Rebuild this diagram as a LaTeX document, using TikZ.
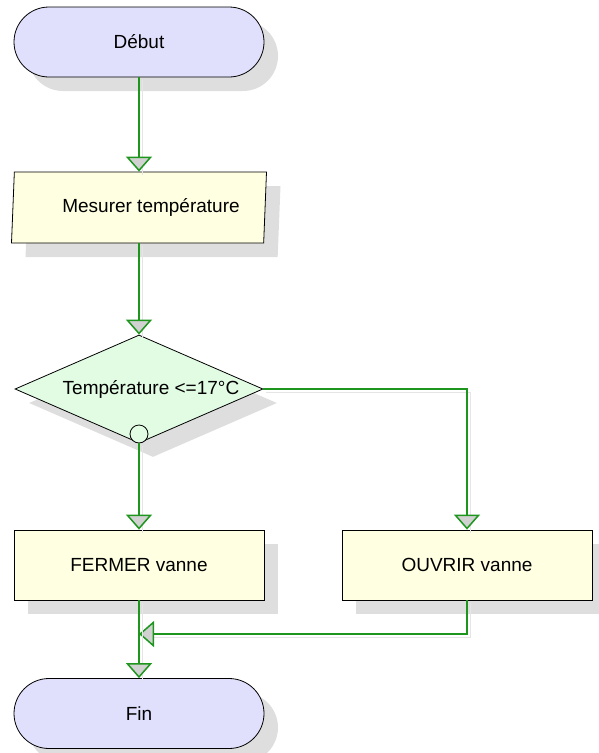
\documentclass[tikz,border=0pt]{standalone}
\usepackage{fontspec}
\setmainfont{Liberation Sans}
\usetikzlibrary{shapes.geometric,shapes.misc,shadows,arrows.meta}

\definecolor{lavande}{RGB}{224,224,252}
\definecolor{creme}{RGB}{255,255,226}
\definecolor{menthe}{RGB}{226,252,228}
\definecolor{vert}{RGB}{30,150,30}
\definecolor{ombregris}{RGB}{222,222,222}

% texte decale vers la droite dans sa forme
\newcommand{\decale}[1]{\makebox[0pt][c]{\hspace*{24pt}#1}}

\tikzset{
  bloc/.style={draw=black, line width=0.8pt, inner sep=0pt,
    font=\fontsize{19}{22}\selectfont,
    drop shadow={shadow xshift=14pt, shadow yshift=-14pt, fill=ombregris, opacity=1}},
  terminal/.style={bloc, rounded rectangle, fill=lavande,
    minimum width=250pt, minimum height=70pt},
  entree/.style={bloc, trapezium, trapezium left angle=81, trapezium right angle=99,
    trapezium stretches body, fill=creme, minimum width=255pt, minimum height=71pt},
  action/.style={bloc, rectangle, fill=creme, minimum width=250pt, minimum height=70pt},
  decision/.style={bloc, diamond, aspect=2.3, fill=menthe,
    minimum width=248pt, minimum height=108pt},
  pastille/.style={circle, draw=black, line width=0.8pt, fill=menthe,
    minimum size=18pt, inner sep=0pt},
  fleche/.style={draw=vert, line width=1.5pt,
    -{Triangle[length=15pt, width=26pt, fill=black!18]},
    preaction={draw=black!10, -, transform canvas={xshift=3pt, yshift=-3pt}}}
}

\begin{document}
\begin{tikzpicture}[x=1pt, y=-1pt]
\useasboundingbox (0,0) rectangle (598,753);

% blocs
\node[terminal] (debut) at (139,42) {Début};
\node[entree] (mesure) at (139,207.5) {\decale{Mesurer température}};
\node[decision] (test) at (139,389) {\decale{Température <=17°C}};
\node[pastille, anchor=south] (sortie) at (test.south) {};
\node[action] (fermer) at (139,565) {FERMER vanne};
\node[action] (ouvrir) at (467,565) {OUVRIR vanne};
\node[terminal] (fin) at (139,713.5) {Fin};
\coordinate (jonction) at (139,634);

% liaisons
\draw[fleche] (debut.south) -- (mesure.north);
\draw[fleche] (mesure.south) -- (test.north);
\draw[fleche] (sortie.south) -- (fermer.north);
\draw[fleche] (test.east) -| (ouvrir.north);
\draw[fleche] (ouvrir.south) |- (jonction);
\draw[fleche] (fermer.south) -- (fin.north);

\end{tikzpicture}
\end{document}
